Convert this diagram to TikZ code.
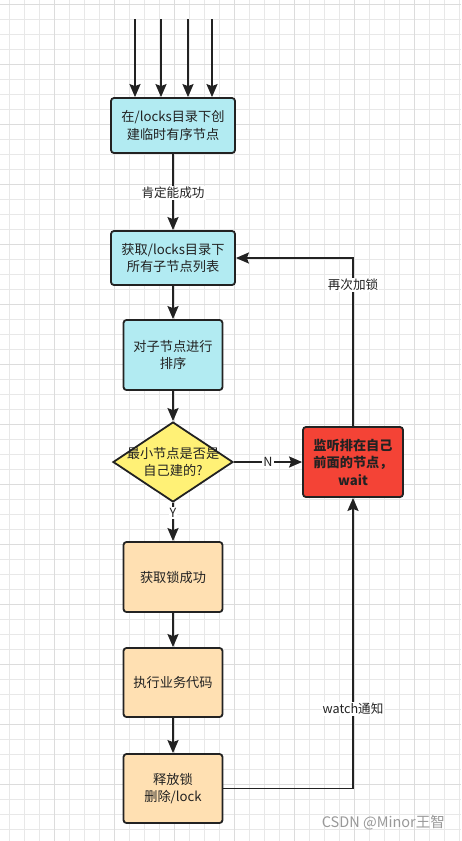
\documentclass[tikz,border=0pt]{standalone}
\usepackage{fontspec}
\setmainfont{Noto Sans CJK SC}
\usetikzlibrary{arrows.meta,shapes.geometric}
\definecolor{gridc}{HTML}{E8E8E8}
\definecolor{gridd}{HTML}{DCDCDC}
\definecolor{cyanf}{HTML}{B2EBF2}
\definecolor{yelf}{HTML}{FFF176}
\definecolor{redf}{HTML}{F44336}
\definecolor{orgf}{HTML}{FFE0B2}
\definecolor{ink}{HTML}{222222}
\tikzset{
  box/.style={draw=ink, line width=1.8pt, rounded corners=3pt, align=center, text=ink,
    font=\fontsize{13.2}{17.5}\selectfont, inner sep=2pt},
  arr/.style={draw=ink, line width=1.8pt, -{Stealth[length=13pt,width=11pt,inset=2pt]}},
  lbl/.style={fill=white, text=ink, inner sep=1pt, font=\fontsize{12.6}{14}\selectfont},
}
\begin{document}
\begin{tikzpicture}[x=1pt,y=-1pt]
\useasboundingbox (0,0) rectangle (461,841);
\fill[white] (0,0) rectangle (461,841);
\foreach \x in {9,24,...,459} \draw[gridc, line width=0.8pt] (\x,0) -- (\x,841);
\foreach \y in {4,19,...,839} \draw[gridc, line width=0.8pt] (0,\y) -- (461,\y);
\foreach \x in {54,114,...,459} \draw[gridd, line width=0.8pt] (\x,0) -- (\x,841);
\foreach \y in {4,64,...,839} \draw[gridd, line width=0.8pt] (0,\y) -- (461,\y);

\node[box, fill=cyanf, minimum width=124pt, minimum height=55pt] (b1) at (173,125.5) {在/locks目录下创\\建临时有序节点};
\node[box, fill=cyanf, minimum width=124pt, minimum height=54pt] (b2) at (173,258) {获取/locks目录下\\所有子节点列表};
\node[box, fill=cyanf, minimum width=99pt, minimum height=70pt] (b3) at (173,355) {对子节点进行\\排序};
\node[draw=ink, line width=1.8pt, fill=yelf, diamond, inner sep=0pt, minimum width=120pt, minimum height=80pt] (d) at (173,462) {};
\node[text=ink, align=center, font=\fontsize{13.2}{17.5}\selectfont] (dt) at (d.center) {最小节点是否是\\自己建的?};
\node[box, fill=redf, minimum width=100pt, minimum height=70pt, font=\bfseries\fontsize{13.2}{17.5}\selectfont] (r) at (353,462) {监听排在自己\\前面的节点，\\wait};
\node[box, fill=orgf, minimum width=99pt, minimum height=70pt] (b4) at (173,577) {获取锁成功};
\node[box, fill=orgf, minimum width=99pt, minimum height=69pt] (b5) at (173,682.5) {执行业务代码};
\node[box, fill=orgf, minimum width=99pt, minimum height=69pt] (b6) at (173,788.5) {释放锁\\删除/lock};

\coordinate (t1) at (135,19);
\coordinate (t2) at (161,19);
\coordinate (t3) at (188,19);
\coordinate (t4) at (212,19);
\foreach \t in {t1,t2,t3,t4} \draw[arr] (\t) -- (\t |- b1.north);

\draw[arr] (b1) -- (b2);
\node[lbl] (l1) at (173,193) {肯定能成功};
\draw[arr] (b2) -- (b3);
\draw[arr] (b3) -- (d);
\draw[arr] (d.east) -- (r.west);
\node[lbl] (ln) at (268,462) {N};
\draw[arr] (d.south) -- (b4.north);
\node[lbl] (ly) at (173,513) {Y};
\draw[arr] (b4) -- (b5);
\draw[arr] (b5) -- (b6);
\draw[arr] (b6.east) -| (r.south);
\node[lbl] (lw) at (353,709) {watch通知};
\draw[arr] (r.north) |- (b2.east);
\node[lbl] (lr) at (353,285) {再次加锁};

\node[anchor=east, text=black!40, font=\fontsize{14.5}{16}\selectfont, inner sep=0pt] (wm) at (445,823) {CSDN @Minor王智};
\end{tikzpicture}
\end{document}
